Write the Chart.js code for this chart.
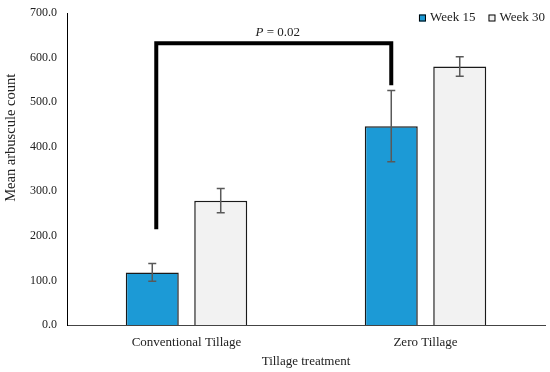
<!DOCTYPE html>
<html>
<head>
<meta charset="utf-8">
<script src="https://cdn.jsdelivr.net/npm/chart.js@4"></script>
<style>
  html, body { margin: 0; padding: 0; background: #fff; }
  #wrap { width: 550px; height: 372px; }
</style>
</head>
<body>
<div id="wrap"><canvas id="chart" width="550" height="372"></canvas></div>
<script>
// ===== Data =====
const categories = ['Conventional Tillage', 'Zero Tillage'];
const seriesNames = ['Week 15', 'Week 30'];
const week15 = [118, 446];
const week30 = [279, 580];
const week15Err = [20, 80];
const week30Err = [27, 22];
const yTicks = [0, 100, 200, 300, 400, 500, 600, 700];
// bracket: top level, left foot, right foot (y values)
const bracketTop = 632;
const bracketFeet = [215, 538];
const pLabel = '0.02';

const serif = "'Liberation Serif', 'DejaVu Serif', serif";
const colorBlue = '#1C9AD6';
const colorGrey = '#F2F2F2';

// ===== Error bars, bracket, legend, y title =====
const extras = {
  id: 'extras',
  afterDatasetsDraw(chart) {
    const ctx = chart.ctx;
    const y = chart.scales.y;
    const errs = [week15Err, week30Err];
    const vals = [week15, week30];

    ctx.save();
    ctx.strokeStyle = '#595959';
    ctx.lineWidth = 1.5;
    errs.forEach((err, d) => {
      chart.getDatasetMeta(d).data.forEach((bar, i) => {
        const hi = y.getPixelForValue(vals[d][i] + err[i]);
        const lo = y.getPixelForValue(vals[d][i] - err[i]);
        ctx.beginPath();
        ctx.moveTo(bar.x, hi); ctx.lineTo(bar.x, lo);
        ctx.moveTo(bar.x - 4, hi); ctx.lineTo(bar.x + 4, hi);
        ctx.moveTo(bar.x - 4, lo); ctx.lineTo(bar.x + 4, lo);
        ctx.stroke();
      });
    });

    // significance bracket
    const m0 = chart.getDatasetMeta(0).data;
    const xl = m0[0].x + 4, xr = m0[1].x;
    const yt = y.getPixelForValue(bracketTop);
    ctx.strokeStyle = '#000';
    ctx.lineWidth = 4;
    ctx.lineJoin = 'miter';
    ctx.beginPath();
    ctx.moveTo(xl, y.getPixelForValue(bracketFeet[0]));
    ctx.lineTo(xl, yt);
    ctx.lineTo(xr, yt);
    ctx.lineTo(xr, y.getPixelForValue(bracketFeet[1]));
    ctx.stroke();

    // P label
    ctx.fillStyle = '#222';
    ctx.textBaseline = 'middle';
    const cx = (xl + xr) / 2 + 4;
    ctx.font = 'italic 13px ' + serif;
    const pw = ctx.measureText('P').width;
    ctx.font = '13px ' + serif;
    const rest = ' = ' + pLabel;
    const rw = ctx.measureText(rest).width;
    const x0 = cx - (pw + rw) / 2;
    ctx.font = 'italic 13px ' + serif;
    ctx.textAlign = 'left';
    ctx.fillText('P', x0, yt - 11);
    ctx.font = '13px ' + serif;
    ctx.fillText(rest, x0 + pw, yt - 11);

    // legend
    const fills = [colorBlue, colorGrey];
    ctx.font = '13px ' + serif;
    let lx = chart.chartArea.right;
    const ly = 18;
    for (let d = seriesNames.length - 1; d >= 0; d--) {
      const tw = ctx.measureText(seriesNames[d]).width;
      lx -= tw;
      ctx.fillStyle = '#222';
      ctx.fillText(seriesNames[d], lx, ly);
      ctx.fillStyle = fills[d];
      ctx.fillRect(lx - 11, ly - 3.5, 7, 7);
      ctx.strokeStyle = '#000';
      ctx.lineWidth = 1;
      ctx.strokeRect(lx - 10.5, ly - 3, 6, 6);
      lx -= 24;
    }

    // y axis title
    ctx.translate(11, y.getPixelForValue(420));
    ctx.rotate(-Math.PI / 2);
    ctx.textAlign = 'center';
    ctx.fillStyle = '#222';
    ctx.font = '14.5px ' + serif;
    ctx.fillText('Mean arbuscule count', 0, 0);
    ctx.restore();
  }
};

new Chart(document.getElementById('chart'), {
  type: 'bar',
  data: {
    labels: categories,
    datasets: [
      { label: seriesNames[0], data: week15, backgroundColor: colorBlue, borderColor: '#1a1a1a', borderWidth: 1.5 },
      { label: seriesNames[1], data: week30, backgroundColor: colorGrey, borderColor: '#1a1a1a', borderWidth: 1.5 }
    ]
  },
  options: {
    responsive: false,
    animation: false,
    devicePixelRatio: 1,
    categoryPercentage: 0.573,
    barPercentage: 0.774,
    layout: { padding: { top: 13, right: 5, bottom: 0, left: 0 } },
    plugins: {
      legend: { display: false },
      tooltip: { enabled: false }
    },
    scales: {
      x: {
        grid: { display: false, drawTicks: false },
        border: { color: '#444', width: 1 },
        ticks: { color: '#222', font: { family: serif, size: 13 }, padding: 10 },
        title: { display: true, text: 'Tillage treatment', color: '#222', font: { family: serif, size: 13 }, padding: { top: 4, bottom: 3 } },
        afterFit: (s) => { s.height = 47; s.paddingLeft = 0; s.paddingRight = 0; }
      },
      y: {
        min: 0,
        max: 700,
        grid: { display: false, drawTicks: false },
        border: { color: '#000', width: 1 },
        afterBuildTicks: (s) => { s.ticks = yTicks.map(v => ({ value: v })); },
        ticks: { color: '#222', font: { family: serif, size: 12 }, padding: 10, callback: (v) => v.toFixed(1) },
        afterFit: (s) => { s.width = 67; s.paddingTop = 0; s.paddingBottom = 0; }
      }
    }
  },
  plugins: [extras]
});
</script>
</body>
</html>
